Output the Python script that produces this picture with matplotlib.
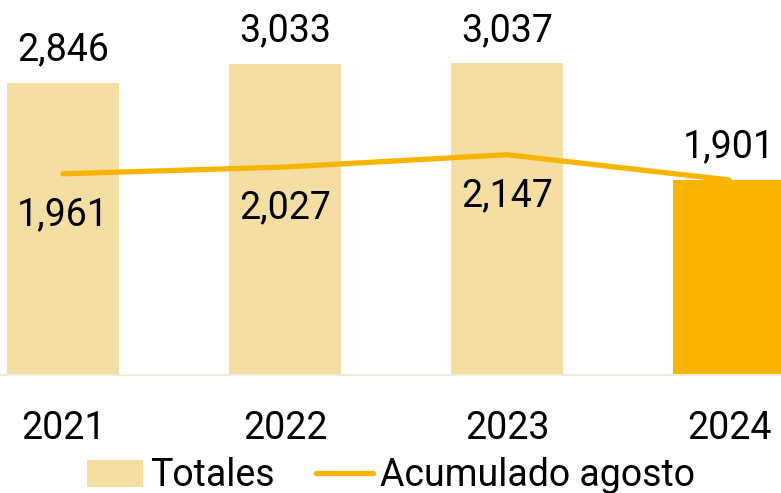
import matplotlib.pyplot as plt
from matplotlib.patches import Patch
from matplotlib.lines import Line2D

plt.rcParams['font.family'] = ['Roboto', 'DejaVu Sans']

# data
years = ['2021', '2022', '2023', '2024']
totales = [2846, 3033, 3037, None]
acumulado_agosto = [1961, 2027, 2147, 1901]

beige = '#F5DEA3'
orange = '#F9B400'

fig = plt.figure(figsize=(7.81, 4.93), dpi=100)
ax = fig.add_axes([0, 118 / 493, 1, 375 / 493])

x = list(range(len(years)))

# bars: full-year totals, 2024 shows the year-to-date value
bar_vals = [t if t is not None else a for t, a in zip(totales, acumulado_agosto)]
bar_cols = [beige, beige, beige, orange]
ax.bar(x, bar_vals, width=0.505, color=bar_cols, zorder=1)

ax.plot(x, acumulado_agosto, color=orange, lw=3.8, solid_capstyle='round',
        solid_joinstyle='round', zorder=3)

fs = 27
for i, t in enumerate(totales):
    if t is not None:
        ax.annotate(f'{t:,}', (i, t), xytext=(0, 33), textcoords='offset pixels',
                    ha='center', va='center', fontsize=fs, color='black')
for i, a in enumerate(acumulado_agosto):
    if totales[i] is not None:
        off = -41
    else:
        off = 33
    ax.annotate(f'{a:,}', (i, a), xytext=(0, off), textcoords='offset pixels',
                ha='center', va='center', fontsize=fs, color='black', zorder=4)

ax.set_xlim(-0.284, 3.234)
ax.set_ylim(0, 3655)
ax.set_xticks(x)
ax.set_xticklabels(years, fontsize=fs)
ax.tick_params(axis='x', length=0, pad=25)
ax.set_yticks([])
for side in ['top', 'right', 'left']:
    ax.spines[side].set_visible(False)
ax.spines['bottom'].set_color('#ECEEDA')
ax.spines['bottom'].set_linewidth(1.5)

handles = [Patch(facecolor=beige, edgecolor='none', label='Totales'),
           Line2D([0], [0], color=orange, lw=3.8, solid_capstyle='round',
                  label='Acumulado agosto')]
fig.legend(handles=handles, loc='center', bbox_to_anchor=(391 / 781, 1 - 476 / 493),
           ncol=2, frameon=False, fontsize=fs, handlelength=1.5, handletextpad=0.2,
           columnspacing=1.1, borderpad=0, borderaxespad=0)

fig.savefig('out.png', dpi=100)
